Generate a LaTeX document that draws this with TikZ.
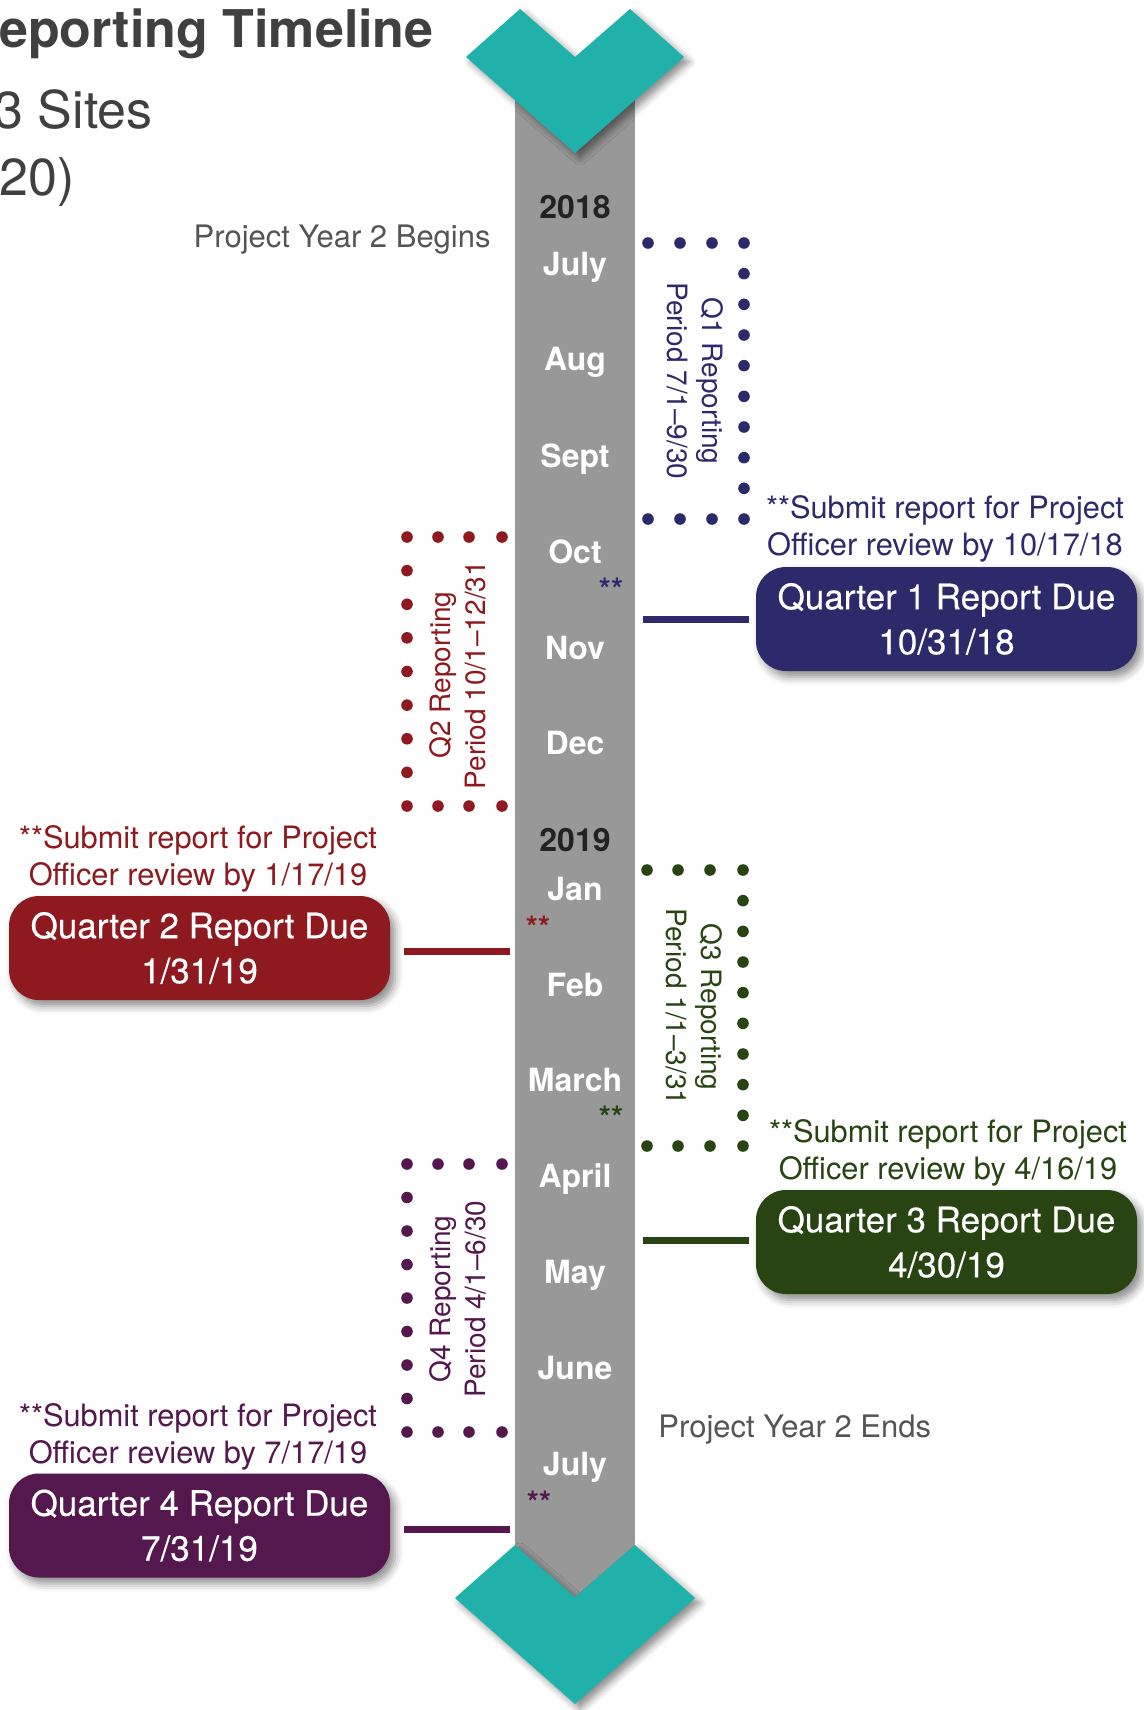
\documentclass[tikz,border=0pt]{standalone}
\usepackage{fontspec}
\setmainfont{TeX Gyre Heros}
\newfontfamily\medfont[FakeBold=0.35]{TeX Gyre Heros}
\usetikzlibrary{shadows.blur}
\definecolor{qnavy}{RGB}{45,42,108}
\definecolor{qred}{RGB}{142,26,31}
\definecolor{qgreen}{RGB}{40,68,18}
\definecolor{qpurple}{RGB}{84,23,78}
\definecolor{tealc}{RGB}{32,178,170}
\definecolor{barc}{RGB}{152,152,152}
\definecolor{titlec}{RGB}{64,64,64}
\definecolor{notec}{RGB}{85,85,85}
\definecolor{yearc}{RGB}{34,34,34}
\begin{document}
\begin{tikzpicture}[x=0.5pt,y=-0.5pt,
  month/.style={font=\fontsize{16}{19}\selectfont\bfseries, text=white, text height=11.5pt, text depth=0pt, inner sep=0pt},
  yearlbl/.style={month, text=yearc},
  stars/.style={font=\fontsize{15.5}{18}\selectfont\bfseries, inner sep=0pt, text height=10.8pt, text depth=0pt},
  duebox/.style={rounded corners=15pt, minimum width=190.5pt, minimum height=52pt, inner sep=0pt, align=center, text=white,
    font=\fontsize{17.5}{22.5}\selectfont\medfont,
    blur shadow={shadow xshift=2.5pt, shadow yshift=-3pt, shadow blur radius=4pt, shadow opacity=45}},
  note/.style={align=center, font=\fontsize{15.4}{18.5}\selectfont, inner sep=0pt},
  period/.style={align=center, font=\fontsize{14}{17.5}\selectfont, inner sep=0pt},
  yearnote/.style={font=\fontsize{15.5}{18}\selectfont, text=notec, inner sep=0pt, text height=11.1pt, text depth=0pt},
  titletext/.style={font=\fontsize{26}{30}\selectfont, text=titlec, inner sep=0pt, anchor=base east},
  link/.style={line width=3.5pt},
  chevshadow/.style={blur shadow={shadow xshift=2.5pt, shadow yshift=-2.5pt, shadow blur radius=3.5pt, shadow opacity=45}}
]
\useasboundingbox (0,0) rectangle (1144,1710);
\clip (0,0) rectangle (1144,1710);

% title (cut off at the left edge, as in the reference)
\node[titletext, font=\fontsize{26}{30}\selectfont\bfseries] (title1) at (434,47) {eporting Timeline};
\node[titletext] (title2) at (153,128) {3 Sites};
\node[titletext] (title3) at (75,195) {-20)};

% timeline bar
\node[fill=barc, minimum width=60pt, minimum height=770pt, inner sep=0pt] (bar) at (575,830) {};

% chevrons
\fill[tealc, chevshadow] (466,57) -- (520,9) -- (575,57) -- (630,9) -- (684,57) -- (575,153) -- cycle;
\fill[tealc, chevshadow] (455,1598) -- (515,1545) -- (575,1597) -- (635,1545) -- (695,1598) -- (575,1704) -- cycle;

% months
\node[yearlbl] (y2018) at (575,207) {2018};
\node[month] (mjul18) at (575,264) {July};
\node[month] (maug) at (575,359) {Aug};
\node[month] (msep) at (575,456) {Sept};
\node[month] (moct) at (575,552) {Oct};
\node[month] (mnov) at (575,648) {Nov};
\node[month] (mdec) at (575,743) {Dec};
\node[yearlbl] (y2019) at (575,840) {2019};
\node[month] (mjan) at (575,889) {Jan};
\node[month] (mfeb) at (575,985) {Feb};
\node[month] (mmar) at (575,1080) {March};
\node[month] (mapr) at (575,1176) {April};
\node[month] (mmay) at (575,1272) {May};
\node[month] (mjun) at (575,1368) {June};
\node[month] (mjul19) at (575,1464) {July};

% asterisks
\node[stars, text=qnavy] (s1) at (611,590) {**};
\node[stars, text=qred] (s2) at (538,928) {**};
\node[stars, text=qgreen] (s3) at (611,1118) {**};
\node[stars, text=qpurple] (s4) at (539,1503) {**};

% project year notes
\node[yearnote, anchor=east] (pybegin) at (491,236) {Project Year 2 Begins};
\node[yearnote, anchor=west] (pyend) at (658,1426) {Project Year 2 Ends};

% dotted brackets
\foreach \x in {648,680,712,744} {\fill[qnavy] (\x,243) circle[radius=2.9pt]; \fill[qnavy] (\x,519) circle[radius=2.9pt];}
\foreach \i in {1,...,8} {\fill[qnavy] (744,{243+\i*30.667}) circle[radius=2.9pt];}
\foreach \x in {407,438,469,502} {\fill[qred] (\x,537) circle[radius=2.9pt]; \fill[qred] (\x,806) circle[radius=2.9pt];}
\foreach \i in {1,...,7} {\fill[qred] (407,{537+\i*33.625}) circle[radius=2.9pt];}
\foreach \x in {647,678,710,743} {\fill[qgreen] (\x,870) circle[radius=2.9pt]; \fill[qgreen] (\x,1146) circle[radius=2.9pt];}
\foreach \i in {1,...,8} {\fill[qgreen] (743,{870+\i*30.667}) circle[radius=2.9pt];}
\foreach \x in {407,438,469,502} {\fill[qpurple] (\x,1164) circle[radius=2.9pt]; \fill[qpurple] (\x,1432) circle[radius=2.9pt];}
\foreach \i in {1,...,7} {\fill[qpurple] (407,{1164+\i*33.5}) circle[radius=2.9pt];}

% reporting period texts
\node[period, text=qnavy, rotate=-90] (q1per) at (695.5,381) {Q1 Reporting\\Period 7/1–9/30};
\node[period, text=qred, rotate=90] (q2per) at (457.5,675) {Q2 Reporting\\Period 10/1–12/31};
\node[period, text=qgreen, rotate=-90] (q3per) at (694,1007) {Q3 Reporting\\Period 1/1–3/31};
\node[period, text=qpurple, rotate=90] (q4per) at (457.5,1299) {Q4 Reporting\\Period 4/1–6/30};

% submit notes
\node[note, text=qnavy] (q1note) at (945,529) {**Submit report for Project\\Officer review by 10/17/18};
\node[note, text=qred] (q2note) at (198,859) {**Submit report for Project\\Officer review by 1/17/19};
\node[note, text=qgreen] (q3note) at (948,1153) {**Submit report for Project\\Officer review by 4/16/19};
\node[note, text=qpurple] (q4note) at (198,1437) {**Submit report for Project\\Officer review by 7/17/19};

% due boxes
\node[duebox, fill=qnavy] (q1box) at (946.5,619) {Quarter 1 Report Due\\10/31/18};
\node[duebox, fill=qred] (q2box) at (199.5,948) {Quarter 2 Report Due\\1/31/19};
\node[duebox, fill=qgreen] (q3box) at (946.5,1242) {Quarter 3 Report Due\\4/30/19};
\node[duebox, fill=qpurple] (q4box) at (199.5,1525.5) {Quarter 4 Report Due\\7/31/19};

% connector end points
\coordinate (q1end) at (q1box.west);
\coordinate (q2end) at ([yshift=-1.5pt]q2box.east);
\coordinate (q3end) at ([yshift=1pt]q3box.west);
\coordinate (q4end) at ([yshift=-1.75pt]q4box.east);

% connectors
\draw[link, qnavy, shorten <=4pt, shorten >=3.5pt] (bar.east |- q1end) -- (q1end);
\draw[link, qred, shorten <=2.5pt, shorten >=7pt] (bar.west |- q2end) -- (q2end);
\draw[link, qgreen, shorten <=4pt, shorten >=3.5pt] (bar.east |- q3end) -- (q3end);
\draw[link, qpurple, shorten <=2.5pt, shorten >=7pt] (bar.west |- q4end) -- (q4end);
\end{tikzpicture}
\end{document}
